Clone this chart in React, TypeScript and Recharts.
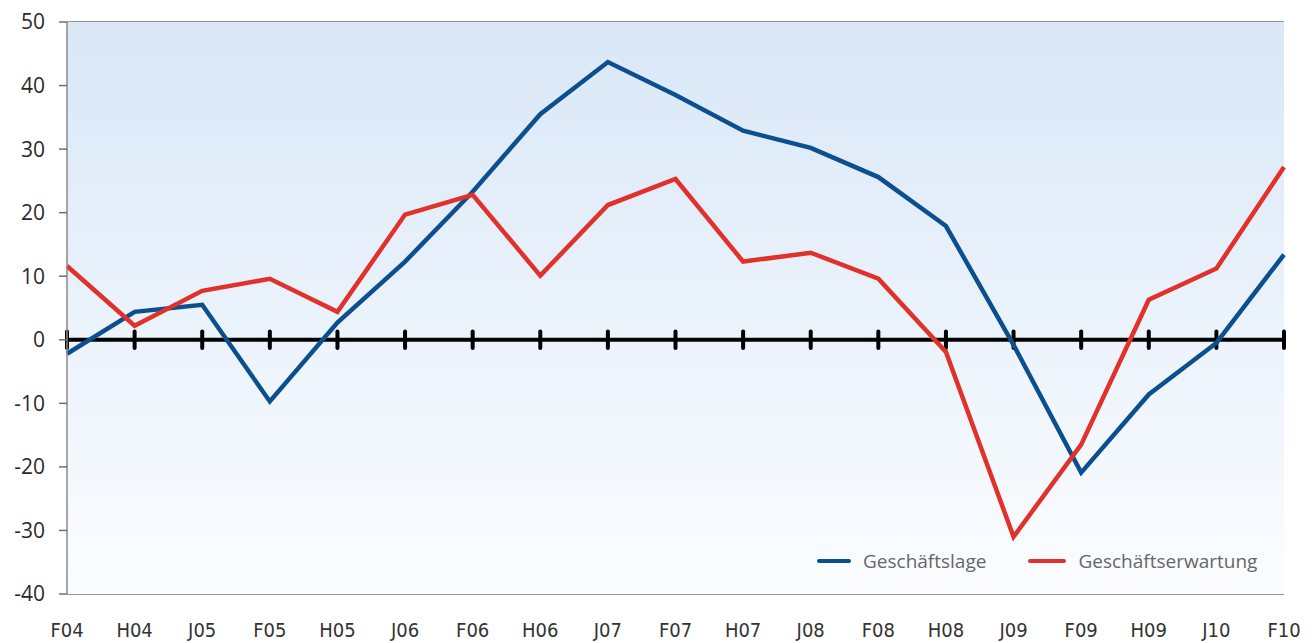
import React from 'react';
import {
  LineChart,
  Line,
  XAxis,
  YAxis,
  CartesianGrid,
  ReferenceLine,
  ReferenceArea,
} from 'recharts';

const quarters = ['F04', 'H04', 'J05', 'F05', 'H05', 'J06', 'F06', 'H06', 'J07', 'F07', 'H07', 'J08', 'F08', 'H08', 'J09', 'F09', 'H09', 'J10', 'F10'];
const geschaeftslage = [-2.2, 4.4, 5.5, -9.7, 2.7, 12.3, 23.3, 35.5, 43.7, 38.5, 32.9, 30.2, 25.6, 17.9, -0.8, -20.9, -8.6, -0.5, 13.4];
const geschaeftserwartung = [11.6, 2.2, 7.7, 9.6, 4.4, 19.7, 22.8, 10.1, 21.2, 25.3, 12.3, 13.7, 9.6, -1.9, -31.0, -16.5, 6.3, 11.2, 27.2];
const yTicks = [-40, -30, -20, -10, 0, 10, 20, 30, 40, 50];

const BLUE = '#0b4f8e';
const RED = '#e0312a';

const data = quarters.map((q, i) => ({
  quarter: q,
  lage: geschaeftslage[i],
  erwartung: geschaeftserwartung[i],
}));

const XTick = ({ x, y, payload }: any) => (
  <text
    x={x}
    y={y + 41}
    textAnchor="middle"
    fill="#333"
    fontSize={20}
    fontWeight={400}
    fontFamily='"Liberation Sans Narrow", "DejaVu Sans Condensed", sans-serif'
    style={{ fontStretch: 'condensed' }}
  >
    {payload.value}
  </text>
);

// legend sits inside the plot, bottom right
const LegendBox = () => (
  <div
    style={{
      position: 'absolute',
      left: 809,
      top: 540,
      display: 'flex',
      alignItems: 'center',
      fontFamily: '"Open Sans", "Noto Sans", sans-serif',
      fontSize: 19,
      color: '#666',
      whiteSpace: 'nowrap',
    }}
  >
    <span style={{ display: 'inline-block', width: 34, height: 4, background: BLUE, borderRadius: 2, marginRight: 12 }} />
    <span style={{ marginRight: 42 }}>Geschäftslage</span>
    <span style={{ display: 'inline-block', width: 38, height: 4, background: RED, borderRadius: 2, marginRight: 12 }} />
    <span>Geschäftserwartung</span>
  </div>
);

export default function App() {
  return (
    <div style={{ position: 'relative', width: 1307, height: 635 }}>
      <LineChart width={1307} height={635} data={data} margin={{ top: 14, right: 31, left: 0, bottom: 0 }}>
        <defs>
          <linearGradient id="bg" x1="0" y1="0" x2="0" y2="1">
            <stop offset="0%" stopColor="#d9e7f7" />
            <stop offset="100%" stopColor="#fbfdff" />
          </linearGradient>
        </defs>
        <ReferenceArea y1={-40} y2={50} fill="url(#bg)" fillOpacity={1} stroke="none" />
        <CartesianGrid vertical={false} stroke="#6f6f6f" strokeWidth={1.5} />
        <XAxis
          dataKey="quarter"
          height={49}
          tickLine={false}
          axisLine={false}
          tickSize={0}
          interval={0}
          tick={<XTick />}
        />
        <YAxis
          domain={[-40, 50]}
          ticks={yTicks}
          width={59}
          tickSize={8}
          tickMargin={14}
          tickLine={{ stroke: '#6f6f6f', strokeWidth: 1.5 }}
          axisLine={{ stroke: '#8a8a8a', strokeWidth: 1.5 }}
          tick={{ fill: '#2a2a2a', fontSize: 21, fontFamily: '"Open Sans", "Noto Sans", sans-serif' }}
        />
        <ReferenceLine y={0} stroke="#000" strokeWidth={4} />
        {quarters.map((q) => (
          <ReferenceLine
            key={q}
            segment={[{ x: q, y: -1.3 }, { x: q, y: 1.3 }]}
            stroke="#000"
            strokeWidth={4}
            strokeLinecap="round"
          />
        ))}
        <Line type="linear" dataKey="lage" stroke={BLUE} strokeWidth={4.5} dot={false} isAnimationActive={false} />
        <Line type="linear" dataKey="erwartung" stroke={RED} strokeWidth={4.5} dot={false} isAnimationActive={false} />
      </LineChart>
      <LegendBox />
    </div>
  );
}
